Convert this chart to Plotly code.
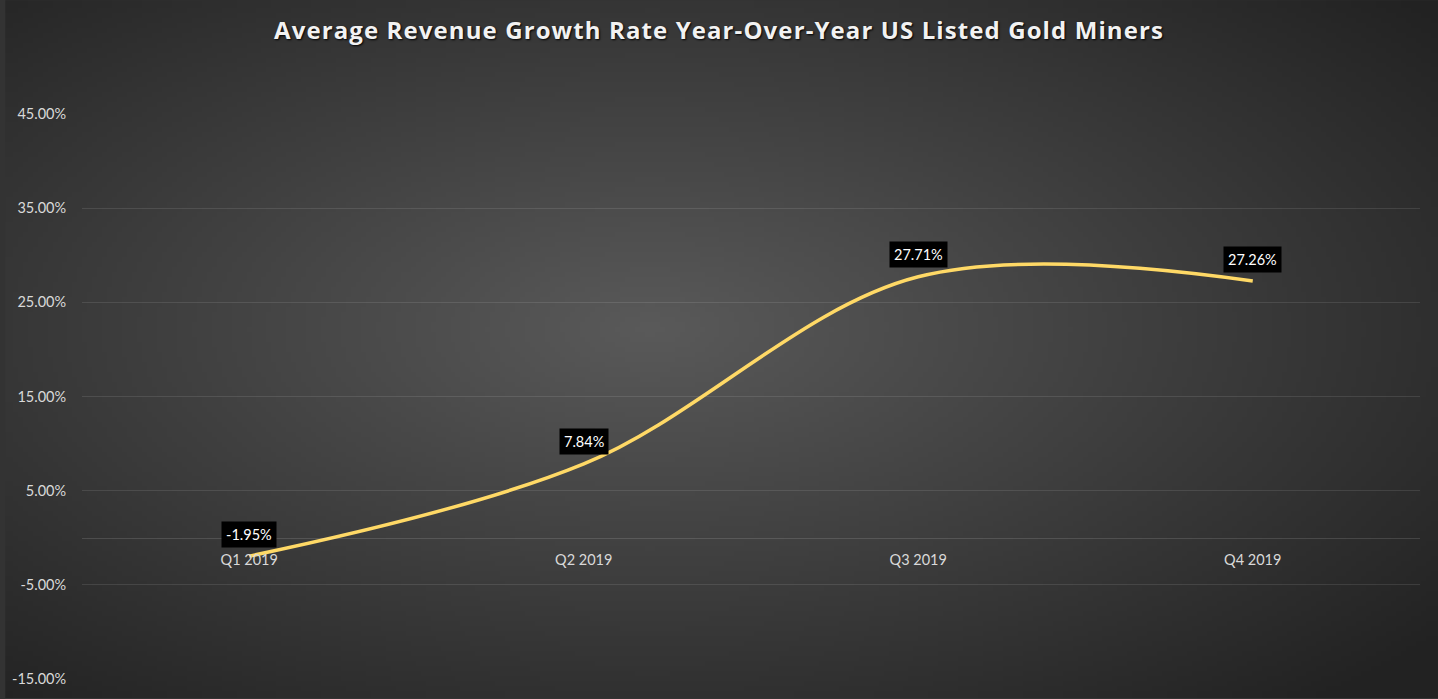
import base64, struct, zlib
import numpy as np
import plotly.graph_objects as go

# ---- data ----
quarters = ["Q1 2019", "Q2 2019", "Q3 2019", "Q4 2019"]
growth_pct = [-1.95, 7.84, 27.71, 27.26]
y_ticks = [-15, -5, 5, 15, 25, 35, 45]
title_text = "Average Revenue Growth Rate Year-Over-Year US Listed Gold Miners"

# ---- radial gradient background as PNG data URI ----
def radial_png(w, h, c_in, c_out, cx=0.45, cy=0.47):
    ys, xs = np.mgrid[0:h, 0:w]
    dx = (xs / (w - 1) - cx)
    dy = (ys / (h - 1) - cy)
    d = np.sqrt(dx ** 2 + dy ** 2) / 0.72
    d = np.clip(d, 0, 1)
    img = np.empty((h, w, 3), dtype=np.uint8)
    for k in range(3):
        img[:, :, k] = (c_in[k] + (c_out[k] - c_in[k]) * d).astype(np.uint8)
    raw = b"".join(b"\x00" + img[r].tobytes() for r in range(h))
    def chunk(tag, data):
        c = struct.pack(">I", len(data)) + tag + data
        return c + struct.pack(">I", zlib.crc32(tag + data) & 0xffffffff)
    png = b"\x89PNG\r\n\x1a\n" + chunk(b"IHDR", struct.pack(">IIBBBBB", w, h, 8, 2, 0, 0, 0)) \
        + chunk(b"IDAT", zlib.compress(raw, 9)) + chunk(b"IEND", b"")
    return "data:image/png;base64," + base64.b64encode(png).decode()

bg = radial_png(288, 140, (0x5a, 0x5a, 0x5a), (0x22, 0x22, 0x22))

fig = go.Figure()
fig.add_trace(go.Scatter(
    x=quarters, y=growth_pct, mode="lines",
    line=dict(color="#FFD966", width=3.5, shape="spline", smoothing=1.0),
    hoverinfo="skip", showlegend=False,
))

for q, v in zip(quarters, growth_pct):
    fig.add_annotation(
        x=q, y=v, text=f"{v:.2f}%", showarrow=False, yshift=22,
        bgcolor="#000000", borderpad=4,
        font=dict(family="Lato, Liberation Sans, sans-serif", size=14.5, color="#FFFFFF"),
    )

fig.add_layout_image(dict(
    source=bg, xref="paper", yref="paper",
    x=-77 / 1343, y=1 + 114 / 566, sizex=1438 / 1343, sizey=699 / 566,
    xanchor="left", yanchor="top", sizing="stretch", layer="below",
))

fig.update_layout(
    width=1438, height=699,
    margin=dict(l=77, r=18, t=114, b=19),
    paper_bgcolor="#333333", plot_bgcolor="rgba(0,0,0,0)",
    title=dict(
        text=title_text, x=0.5, xref="container", xanchor="center",
        y=1 - 31 / 699, yref="container", yanchor="middle",
        font=dict(family="Open Sans, sans-serif", size=24, color="#F2F2F2", weight="bold",
                  shadow="1px 1px 2px #000000"),
    ),
    xaxis=dict(
        range=[-0.5, 3.5], anchor="free", position=0.25,
        showline=True, linecolor="rgba(255,255,255,0.13)", linewidth=1,
        showgrid=False, zeroline=False,
        ticks="outside", ticklen=9, tickcolor="rgba(0,0,0,0)",
        tickfont=dict(family="Lato, Liberation Sans, sans-serif", size=14.5, color="#D9D9D9"),
    ),
    yaxis=dict(
        range=[-15, 45], tickvals=y_ticks,
        ticktext=[f"{t:.2f}%" for t in y_ticks],
        showgrid=True, gridcolor="rgba(255,255,255,0.1)", gridwidth=1,
        zeroline=False, showline=False,
        ticks="outside", ticklen=12, tickcolor="rgba(0,0,0,0)",
        tickfont=dict(family="Lato, Liberation Sans, sans-serif", size=14.5, color="#D9D9D9"),
    ),
)

post = (
    "document.body.style.margin='0';"
    "document.body.style.overflow='hidden';"
    "var t=document.querySelector('.gtitle'); if(t){t.style.letterSpacing='1.1px';}"
)
fig.write_html("out.html", post_script=post, config={"displayModeBar": False})
